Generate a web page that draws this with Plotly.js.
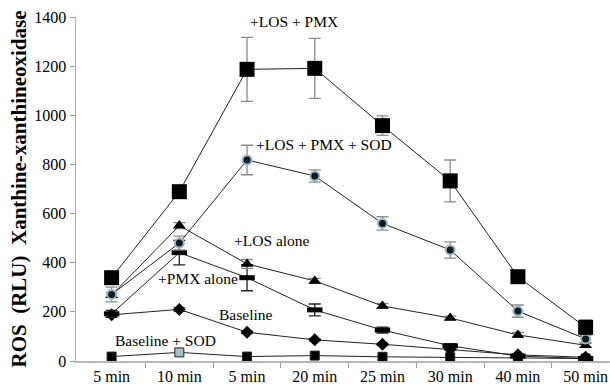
<!DOCTYPE html>
<html>
<head>
<meta charset="utf-8">
<script src="https://cdn.plot.ly/plotly-3.0.1.min.js"></script>
<style>html,body{margin:0;padding:0;background:#fff;}#chart{width:610px;height:390px;}</style>
</head>
<body>
<div id="chart"></div>
<script>
// x positions (category index) and tick labels as printed in the figure
var xIndex = [0, 1, 2, 3, 4, 5, 6, 7];
var tickLabels = ["5 min", "10 min", "5 min", "20 min", "25 min", "30 min", "40 min", "50 min"];

var losPmx      = [339, 689, 1187, 1191, 958, 733, 343, 137];
var losPmxErr   = [15, 22, 130, 122, 40, 85, 12, 30];
var losPmxSod   = [271, 480, 818, 753, 560, 452, 203, 90];
var losPmxSodErr= [30, 28, 60, 25, 27, 33, 25, 15];
var losAlone    = [268, 551, 395, 326, 224, 175, 106, 64];
var losAloneErr = [10, 12, 18, 10, 10, 8, 10, 8];
var pmxAlone    = [192, 441, 339, 208, 126, 62, 20, 10];
var pmxAloneErr = [14, 50, 53, 24, 12, 8, 5, 5];
var baseline    = [188, 210, 117, 86, 68, 48, 25, 15];
var baselineErr = [4, 8, 5, 5, 5, 4, 4, 4];
var baseSod     = [18, 35, 18, 22, 17, 15, 12, 10];

var labelTexts = ["+LOS + PMX", "+LOS + PMX + SOD", "+LOS alone", "+PMX alone", "Baseline", "Baseline + SOD"];

var lineStyle = {color: "#222", width: 1};
var serif = "'Liberation Serif', 'Times New Roman', Times, serif";

function errY(arr, col) {
  return {type: "data", array: arr, visible: true, color: col, thickness: 1.3, width: 6};
}

var traces = [
  {x: xIndex, y: baseSod, mode: "lines+markers", line: lineStyle,
   marker: {symbol: "square", size: 9, color: ["#000", "#a9c1c9", "#000", "#000", "#000", "#000", "#000", "#000"],
            line: {color: "#222", width: 1}}},
  {x: xIndex, y: baseline, mode: "lines+markers", line: lineStyle,
   marker: {symbol: "diamond", size: 10, color: "#000"}, error_y: errY(baselineErr, "#777")},
  {x: xIndex, y: pmxAlone, mode: "lines+markers", line: lineStyle,
   marker: {symbol: "line-ew", size: 11, color: "#000", line: {color: "#000", width: 5}}, error_y: errY(pmxAloneErr, "#222")},
  {x: xIndex, y: losAlone, mode: "lines+markers", line: lineStyle,
   marker: {symbol: "triangle-up", size: 11, color: "#000"}, error_y: errY(losAloneErr, "#888")},
  {x: xIndex, y: losPmxSod, mode: "lines+markers", line: lineStyle,
   marker: {symbol: "circle", size: 9, color: "#0d1a24", line: {color: "#9fb6c0", width: 2}}, error_y: errY(losPmxSodErr, "#8a8a8a")},
  {x: xIndex, y: losPmx, mode: "lines+markers", line: lineStyle,
   marker: {symbol: "square", size: 15, color: "#000"}, error_y: errY(losPmxErr, "#8a8a8a")}
];

var labelPos = [[2.69, 1381], [3.14, 883], [2.37, 491], [1.27, 334], [1.97, 190], [0.79, 83]];
var annotations = labelTexts.map(function (t, i) {
  return {x: labelPos[i][0], y: labelPos[i][1], xref: "x", yref: "y", text: t, showarrow: false,
          font: {family: serif, size: 15.5, color: "#000"}};
});

var layout = {
  width: 610, height: 390,
  margin: {l: 76, r: 0, t: 17, b: 29},
  paper_bgcolor: "#fff", plot_bgcolor: "#fff",
  showlegend: false,
  font: {family: serif, size: 16, color: "#000"},
  xaxis: {
    range: [-0.526, 7.36], tickmode: "array", tickvals: xIndex, ticktext: tickLabels,
    ticks: "", showgrid: false, zeroline: false, showline: true, linecolor: "#b5b5b5", linewidth: 1.5,
    tickfont: {family: serif, size: 16, color: "#000"},
    minor: {tickmode: "array", tickvals: [0.5, 1.5, 2.5, 3.5, 4.5, 5.5, 6.5], ticks: "outside",
            ticklen: 5, tickcolor: "#999", tickwidth: 1, showgrid: false},
    fixedrange: true
  },
  yaxis: {
    range: [0, 1400], tickmode: "array", tickvals: [0, 200, 400, 600, 800, 1000, 1200, 1400],
    ticks: "outside", ticklen: 5, tickcolor: "#999", showgrid: false, zeroline: false,
    showline: true, linecolor: "#b5b5b5", linewidth: 1.5,
    tickfont: {family: serif, size: 16, color: "#000"},
    title: {text: "ROS  (RLU)  Xanthine-xanthineoxidase", standoff: 2,
            font: {family: serif, size: 21, color: "#000", weight: "bold"}},
    fixedrange: true
  },
  annotations: annotations
};

Plotly.newPlot("chart", traces, layout, {displayModeBar: false, staticPlot: true});
</script>
</body>
</html>
